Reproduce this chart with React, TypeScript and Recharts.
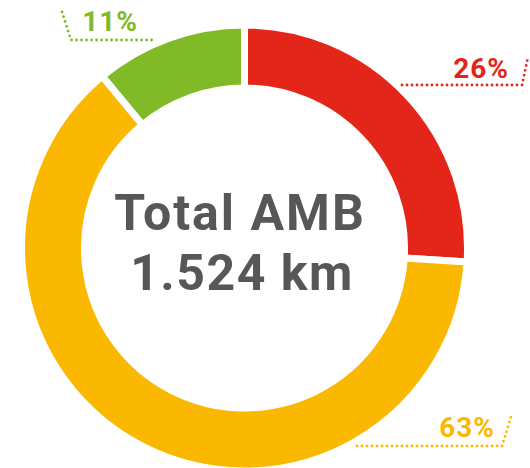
import { PieChart, Pie, Cell } from "recharts";

const segments = ["Red", "Yellow", "Green"];
const shares = [26, 63, 11];
const colors = ["#E3251A", "#FAB800", "#80BA27"];
const totalLines = ["Total AMB", "1.524 km"];

// label layout: text end/baseline + dotted leader polyline
const LABEL_LAYOUT = [
  { x: 509, y: 78, line: "402,85 522,85 528,57" },
  { x: 495, y: 437, line: "357,446 502,446 511,417" },
  { x: 138, y: 31, line: "62,12 71,40 152,40" },
];

const data = segments.map((name, i) => ({ name, value: shares[i] }));

const FONT = "Roboto, 'Open Sans', sans-serif";

function renderLabel(props: any) {
  const { index, value } = props;
  const pos = LABEL_LAYOUT[index];
  const color = colors[index];
  return (
    <g key={`lbl-${index}`}>
      <polyline
        points={pos.line}
        fill="none"
        stroke={color}
        strokeWidth={2.8}
        strokeDasharray="0 5"
        strokeLinecap="round"
      />
      <text
        x={pos.x}
        y={pos.y}
        textAnchor="end"
        fill={color}
        fontFamily={FONT}
        fontWeight={700}
        fontSize={28}
        letterSpacing={1}
      >
        {`${value}%`}
      </text>
    </g>
  );
}

export default function App() {
  return (
    <div style={{ position: "absolute", left: 0, top: 0, background: "#fff" }}>
      <PieChart
        width={530}
        height={468}
        margin={{ top: 0, right: 0, bottom: 0, left: 0 }}
      >
        <Pie
          data={data}
          dataKey="value"
          nameKey="name"
          cx={244.5}
          cy={248}
          startAngle={90}
          endAngle={-270}
          innerRadius={160}
          outerRadius={223}
          stroke="#ffffff"
          strokeWidth={7}
          label={renderLabel}
          labelLine={false}
          isAnimationActive={false}
        >
          {data.map((_, i) => (
            <Cell key={`cell-${i}`} fill={colors[i]} />
          ))}
        </Pie>
        <text
          x={240}
          y={230}
          textAnchor="middle"
          fill="#575756"
          fontFamily={FONT}
          fontWeight={700}
          fontSize={50}
          letterSpacing={2}
        >
          {totalLines[0]}
        </text>
        <text
          x={242}
          y={290}
          textAnchor="middle"
          fill="#575756"
          fontFamily={FONT}
          fontWeight={700}
          fontSize={50}
          letterSpacing={1.5}
        >
          {totalLines[1]}
        </text>
      </PieChart>
    </div>
  );
}
